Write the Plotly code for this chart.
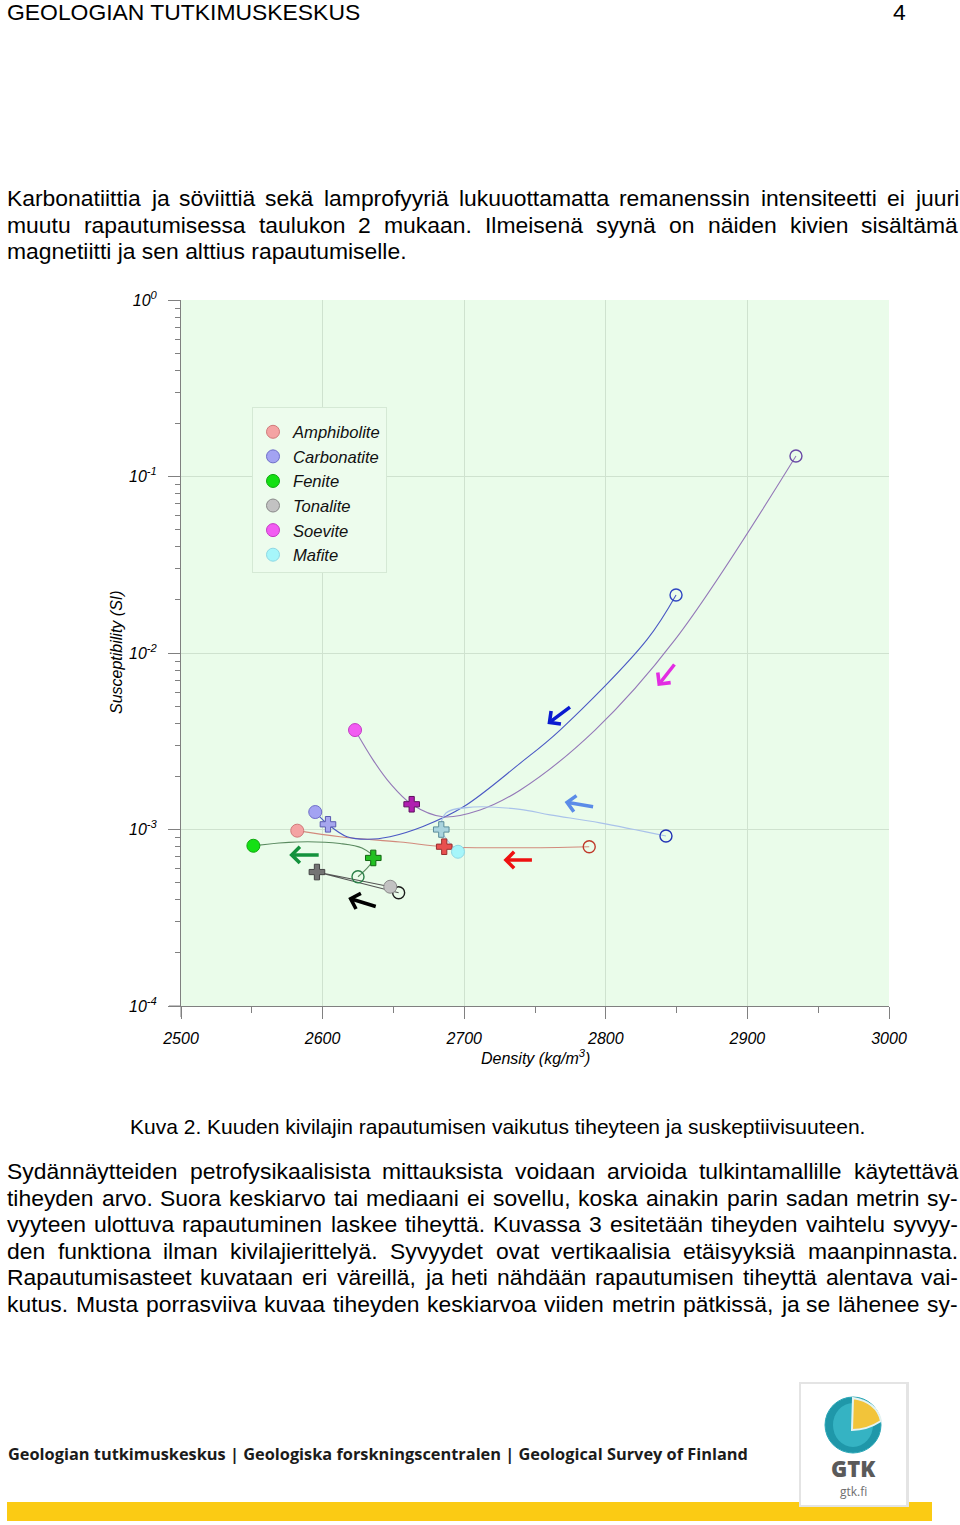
import plotly.graph_objects as go

W, H = 960, 1525

# ---------------- data ----------------
rocks = ["Amphibolite", "Carbonatite", "Fenite", "Tonalite", "Soevite", "Mafite"]

# weathered samples (filled circles)
weathered_density = [2582.1, 2594.8, 2551.1, 2647.8, 2622.9, 2695.6]
weathered_susc = [9.85e-4, 1.256e-3, 8.09e-4, 4.74e-4, 3.66e-3, 7.48e-4]
# partly weathered samples (plus signs)
partial_density = [2685.9, 2603.8, 2635.8, 2596.0, 2662.9, 2683.8]
partial_susc = [7.99e-4, 1.07e-3, 6.90e-4, 5.74e-4, 1.39e-3, 1.0e-3]
# fresh samples (open circles)
fresh_density = [2788.3, 2849.6, 2625.0, 2653.7, 2934.3, 2842.5]
fresh_susc = [7.99e-4, 2.13e-2, 5.40e-4, 4.38e-4, 0.1306, 9.18e-4]

# trend curves
amph_curve_density = [2582.1, 2612.3, 2654.7, 2685.9, 2739.4, 2788.3]
amph_curve_susc = [9.85e-4, 9.10e-4, 8.50e-4, 7.99e-4, 7.88e-4, 7.99e-4]
carb_curve_density = [2594.8, 2603.8, 2617.2, 2631.4, 2647.6, 2670.9, 2699.2, 2739.4, 2767.7, 2829.1, 2849.6]
carb_curve_susc = [1.256e-3, 1.07e-3, 9.10e-4, 8.80e-4, 9.10e-4, 1.04e-3, 1.34e-3, 2.37e-3, 3.66e-3, 1.19e-2, 2.13e-2]
fen_curve_density = [2551.1, 2581.9, 2612.3, 2627.8, 2635.8, 2625.0]
fen_curve_susc = [8.09e-4, 8.50e-4, 8.33e-4, 7.85e-4, 6.90e-4, 5.40e-4]
ton_curve_density = [2647.8, 2596.0, 2653.7]
ton_curve_susc = [4.74e-4, 5.74e-4, 4.38e-4]
soe_curve_density = [2622.9, 2635.6, 2647.6, 2662.9, 2685.0, 2711.2, 2739.4, 2792.4, 2848.9, 2934.3]
soe_curve_susc = [3.66e-3, 2.48e-3, 1.83e-3, 1.39e-3, 1.18e-3, 1.29e-3, 1.67e-3, 3.66e-3, 1.19e-2, 0.1306]
maf_curve_density = [2695.6, 2683.8, 2687.1, 2706.2, 2739.4, 2760.6, 2795.9, 2842.5]
maf_curve_susc = [7.48e-4, 1.0e-3, 1.24e-3, 1.34e-3, 1.30e-3, 1.21e-3, 1.09e-3, 9.18e-4]

curves_density = [amph_curve_density, carb_curve_density, fen_curve_density,
                  ton_curve_density, soe_curve_density, maf_curve_density]
curves_susc = [amph_curve_susc, carb_curve_susc, fen_curve_susc,
               ton_curve_susc, soe_curve_susc, maf_curve_susc]

x_ticks = [2500, 2600, 2700, 2800, 2900, 3000]
y_ticks = [1e-4, 1e-3, 1e-2, 1e-1, 1]
y_ticktext = ["10<sup>-4</sup>", "10<sup>-3</sup>", "10<sup>-2</sup>", "10<sup>-1</sup>", "10<sup>0</sup>"]

# ---------------- styles ----------------
fill_colors = ["#f4a3a3", "#a3a3f2", "#14e014", "#c2c2c2", "#f25cf2", "#a6f6fa"]
fill_edges = ["#d07a7a", "#6f6fc9", "#0fa80f", "#8a8a8a", "#c43cc4", "#8fd8e4"]
plus_colors = ["#e8504f", "#a6a6ee", "#22c022", "#747474", "#b01eb0", "#a9d4de"]
plus_edges = ["#9a2f2f", "#5b5bb0", "#126612", "#444444", "#5e0f5e", "#5a8c99"]
open_colors = ["#c0392b", "#2f46c2", "#2a8048", "#1a1a1a", "#6a4aa6", "#2233b5"]
line_colors = ["#d28a7c", "#4a58c4", "#5a8a60", "#555555", "#9478b8", "#a9c2ea"]
line_shapes = ["spline", "spline", "spline", "linear", "spline", "spline"]

FONT = "Liberation Sans, Arial, sans-serif"

fig = go.Figure()

for i, r in enumerate(rocks):
    fig.add_trace(go.Scatter(
        x=curves_density[i], y=curves_susc[i], mode="lines",
        line=dict(color=line_colors[i], width=1.1, shape=line_shapes[i], smoothing=1.0),
        showlegend=False, hoverinfo="skip"))

for i, r in enumerate(rocks):
    fig.add_trace(go.Scatter(
        x=[fresh_density[i]], y=[fresh_susc[i]], mode="markers",
        marker=dict(symbol="circle-open", size=12, color=open_colors[i], line=dict(width=1.4)),
        showlegend=False))
    fig.add_trace(go.Scatter(
        x=[partial_density[i]], y=[partial_susc[i]], mode="markers",
        marker=dict(symbol="cross", size=13, color=plus_colors[i],
                    line=dict(color=plus_edges[i], width=1)),
        showlegend=False))

for i, r in enumerate(rocks):
    fig.add_trace(go.Scatter(
        x=[weathered_density[i]], y=[weathered_susc[i]], mode="markers", name=r,
        marker=dict(symbol="circle", size=13, color=fill_colors[i],
                    line=dict(color=fill_edges[i], width=1))))

# ---------------- page helpers ----------------
def px(x):
    return x / W


def py(y):
    return 1 - y / H


ARIAL = {
    " ": 278, "!": 278, ",": 278, "-": 333, ".": 278, ":": 278, ";": 278, "?": 556,
    "0": 556, "1": 556, "2": 556, "3": 556, "4": 556, "5": 556, "6": 556, "7": 556, "8": 556, "9": 556,
    "A": 667, "B": 667, "C": 722, "D": 722, "E": 667, "F": 611, "G": 778, "H": 722, "I": 278,
    "J": 500, "K": 667, "L": 556, "M": 833, "N": 722, "O": 778, "P": 667, "Q": 778, "R": 722,
    "S": 667, "T": 611, "U": 722, "V": 667, "W": 944, "X": 667, "Y": 667, "Z": 611,
    "a": 556, "b": 556, "c": 500, "d": 556, "e": 556, "f": 278, "g": 556, "h": 556, "i": 222,
    "j": 222, "k": 500, "l": 222, "m": 833, "n": 556, "o": 556, "p": 556, "q": 556, "r": 333,
    "s": 500, "t": 278, "u": 556, "v": 500, "w": 722, "x": 500, "y": 500, "z": 500,
    "ä": 556, "ö": 556, "å": 556, "Ä": 667, "Ö": 778,
}


def tw(s, size):
    return sum(ARIAL.get(c, 556) for c in s) * size / 1000.0


annotations = []


def add_text(txt, x, y, size, anchor="left", **font_kw):
    annotations.append(dict(
        x=px(x), y=py(y), xref="paper", yref="paper", text=txt, showarrow=False,
        xanchor=anchor, yanchor="middle", borderpad=0, borderwidth=0,
        font=dict(family=font_kw.pop("family", FONT), size=size,
                  color=font_kw.pop("color", "#000000"), **font_kw)))


def add_justified(line, y, size, left=7, right=958):
    words = line.split(" ")
    widths = [tw(w, size) for w in words]
    gap = (right - left - sum(widths)) / max(len(words) - 1, 1)
    xpos = left
    for w, wd in zip(words, widths):
        add_text(w, xpos, y, size)
        xpos += wd + gap


BODY = 22.9
para1 = [
    ("Karbonatiittia ja söviittiä sekä lamprofyyriä lukuuottamatta remanenssin intensiteetti ei juuri", True, 198),
    ("muutu rapautumisessa taulukon 2 mukaan. Ilmeisenä syynä on näiden kivien sisältämä", True, 224.5),
    ("magnetiitti ja sen alttius rapautumiselle.", False, 251),
]
para2 = [
    ("Sydännäytteiden petrofysikaalisista mittauksista voidaan arvioida tulkintamallille käytettävä", True, 1171),
    ("tiheyden arvo. Suora keskiarvo tai mediaani ei sovellu, koska ainakin parin sadan metrin sy-", True, 1197.5),
    ("vyyteen ulottuva rapautuminen laskee tiheyttä. Kuvassa 3 esitetään tiheyden vaihtelu syvyy-", True, 1224),
    ("den funktiona ilman kivilajierittelyä. Syvyydet ovat vertikaalisia etäisyyksiä maanpinnasta.", True, 1250.5),
    ("Rapautumisasteet kuvataan eri väreillä, ja heti nähdään rapautumisen tiheyttä alentava vai-", True, 1277),
    ("kutus. Musta porrasviiva kuvaa tiheyden keskiarvoa viiden metrin pätkissä, ja se lähenee sy-", True, 1303.5),
]
for txt, just, y in para1 + para2:
    if just:
        add_justified(txt, y, BODY)
    else:
        add_text(txt, 7, y, BODY)

add_text("GEOLOGIAN TUTKIMUSKESKUS", 7, 12, 22.9)
add_text("4", 899, 12, 22.9, anchor="center")
add_text("Kuva 2. Kuuden kivilajin rapautumisen vaikutus tiheyteen ja suskeptiivisuuteen.", 130, 1126, 21)

# axis titles
add_text("Density (kg/m<sup>3</sup>)", 535, 1057, 16, anchor="center", style="italic")
annotations.append(dict(
    x=px(116), y=py(652), xref="paper", yref="paper", text="Susceptibility (SI)",
    showarrow=False, textangle=-90, xanchor="center", yanchor="middle",
    font=dict(family=FONT, size=16, style="italic", color="#000000")))

# footer
add_text("Geologian tutkimuskeskus | Geologiska forskningscentralen | Geological Survey of Finland",
         8, 1454, 16.35, family="Open Sans", weight=700, color="#1b1b1b")
add_text("GTK", 853, 1468, 22, anchor="center", family="Open Sans", weight=800, color="#5a5a5a")
add_text("gtk.fi", 853, 1491, 12, anchor="center", family="Open Sans", color="#6e6e6e")

# weathering arrows (tip in data coords, tail offset in px)
arrow_specs = [
    (2576.4, -3.144, 31, 0, "#13923c"),
    (2618.1, -3.388, 29, 9, "#000000"),
    (2727.7, -3.173, 30, 0, "#ee1111"),
    (2770.9, -2.844, 30, 5, "#5b8ce8"),
    (2758.8, -2.402, 24, -18, "#0b1bd0"),
    (2836.6, -2.187, 18, -23, "#e22de2"),
]
for ax_x, ax_y, dx, dy, col in arrow_specs:
    annotations.append(dict(
        x=ax_x, y=ax_y, xref="x", yref="y", ax=dx, ay=dy, axref="pixel", ayref="pixel",
        text="", showarrow=True, arrowhead=4, arrowsize=0.9, arrowwidth=3.5,
        arrowcolor=col, standoff=0, startstandoff=0))

# ---------------- shapes ----------------
shapes = [
    # axis overhangs
    dict(type="line", xref="paper", yref="paper", x0=px(181), x1=px(181), y0=py(1006), y1=py(1017),
         line=dict(color="#808080", width=1)),
    dict(type="line", xref="paper", yref="paper", x0=px(169), x1=px(181), y0=py(1006), y1=py(1006),
         line=dict(color="#808080", width=1)),
    # yellow footer bar
    dict(type="rect", xref="paper", yref="paper", x0=px(7), x1=px(932), y0=py(1521), y1=py(1502),
         fillcolor="#fbcb14", line=dict(width=0), layer="below"),
    # logo card shadow + card
    dict(type="rect", xref="paper", yref="paper", x0=px(799), x1=px(909), y0=py(1507), y1=py(1382),
         fillcolor="#e4e4e4", line=dict(width=0), layer="below"),
    dict(type="rect", xref="paper", yref="paper", x0=px(801), x1=px(906), y0=py(1505), y1=py(1384),
         fillcolor="#ffffff", line=dict(width=0), layer="below"),
    # globe
    dict(type="circle", xref="paper", yref="paper", x0=px(825), x1=px(881), y0=py(1453), y1=py(1397),
         fillcolor="#1f97a9", line=dict(color="#2aa7b7", width=1), layer="below"),
    dict(type="circle", xref="paper", yref="paper", x0=px(833), x1=px(873), y0=py(1447), y1=py(1403),
         fillcolor="#35b3c3", line=dict(width=0), layer="below"),
    dict(type="path", xref="paper", yref="paper", layer="below",
         path=(f"M {px(853)},{py(1398)} L {px(852)},{py(1430)} "
               f"Q {px(867)},{py(1430)} {px(881)},{py(1421)} "
               f"Q {px(877)},{py(1402)} {px(853)},{py(1398)} Z"),
         fillcolor="#f2c43a", line=dict(color="#e4f3f2", width=2)),
]

fig.update_layout(
    width=W, height=H, margin=dict(l=0, r=0, t=0, b=0, pad=0, autoexpand=False),
    paper_bgcolor="#ffffff", plot_bgcolor="#eafcea",
    font=dict(family=FONT, color="#000000"),
    showlegend=True,
    legend=dict(x=px(252), y=py(407), xanchor="left", yanchor="top",
                bgcolor="#edfced", bordercolor="#d5e9d5", borderwidth=1,
                title=dict(text=" ", font=dict(size=5)),
                font=dict(family=FONT, size=16.6, style="italic", color="#111111"),
                itemclick=False),
    xaxis=dict(domain=[px(181), px(889)], range=[2500, 3000], tickmode="array", tickvals=x_ticks,
               automargin=False,
               ticks="outside", ticklen=12, tickcolor="#808080", showline=True,
               linecolor="#808080", linewidth=1, showgrid=True, gridcolor="#cfe2cf", zeroline=False,
               tickfont=dict(family=FONT, size=16, style="italic"), ticklabelstandoff=6,
               minor=dict(dtick=50, tick0=2500, ticks="outside", ticklen=6, tickcolor="#808080",
                          showgrid=False)),
    yaxis=dict(domain=[py(1006), py(300)], type="log", range=[-4, 0], tickmode="array",
               tickvals=y_ticks, ticktext=y_ticktext, automargin=False,
               ticks="outside", ticklen=12, tickcolor="#808080", showline=True,
               linecolor="#808080", linewidth=1, showgrid=True, gridcolor="#cfe2cf", zeroline=False,
               tickfont=dict(family=FONT, size=16, style="italic"), ticklabelstandoff=8,
               minor=dict(tickmode="array",
                          tickvals=[k * 10.0 ** e for e in range(-4, 0) for k in range(2, 10)],
                          ticks="outside", ticklen=5, tickcolor="#808080", showgrid=False)),
    annotations=annotations,
    shapes=shapes,
)

fig.write_html("out.html", config={"displayModeBar": False},
               post_script="document.body.style.margin='0';document.body.style.padding='0';")
